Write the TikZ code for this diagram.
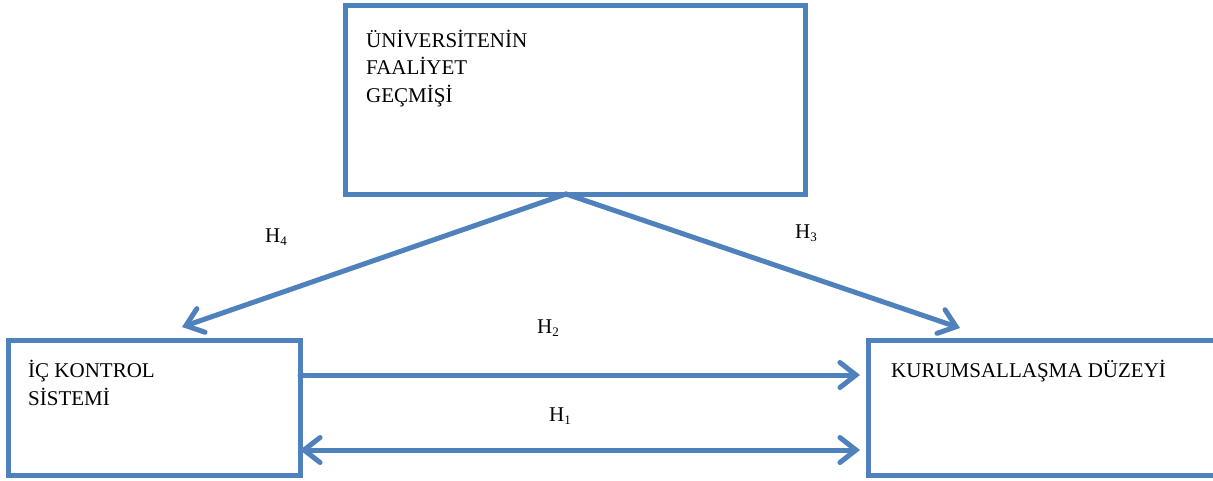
\documentclass[tikz,border=0pt]{standalone}
\usepackage{fontspec}
\setmainfont{Liberation Serif}
\usetikzlibrary{arrows.meta}
\definecolor{kutumavi}{RGB}{79,129,189}
\tikzset{
  kutu/.style={draw=kutumavi, line width=5pt, outer sep=0pt, inner sep=0pt},
  ok/.style={draw=kutumavi, line width=5pt, line cap=round,
    -{Straight Barb[length=16pt,width=25pt,line cap=round]}},
  yazi/.style={font=\fontsize{21}{27.5}\selectfont, inner sep=0pt, align=left, anchor=base west},
}
\begin{document}
\begin{tikzpicture}[x=1pt,y=-1pt]
            \useasboundingbox[fill=white] (0,0) rectangle (1213,480);
            % boxes
            \node[kutu, minimum width=460pt, minimum height=189pt] (gecmis) at (575,99.5) {};
            \node[kutu, minimum width=291.5pt, minimum height=134.5pt] (ic) at (154.25,407.75) {};
            \node[kutu, minimum width=350pt, minimum height=135pt] (kurum) at (1043,407.5) {};
            % box texts (base = last line)
            \node[yazi] (gecmisyazi) at (366,102.3) {ÜNİVERSİTENİN\\FAALİYET\\GEÇMİŞİ};
            \node[yazi] (icyazi) at (28,405) {İÇ KONTROL\\SİSTEMİ};
            \node[yazi] (kurumyazi) at (891,377) {KURUMSALLAŞMA DÜZEYİ};
            % arrow ends
            \coordinate (tepe) at (566,194);
            \coordinate (h4uc) at (182,327);
            \coordinate (h3uc) at (960,328);
            \coordinate (h2uc) at (860,375);
            \coordinate (h1uc) at (860,450);
            % arrows
            \draw[ok] (tepe) -- (h4uc);
            \draw[ok] (tepe) -- (h3uc);
            \draw[ok] (ic.east |- h2uc) -- (h2uc);
            \draw[ok, {Straight Barb[length=16pt,width=25pt,line cap=round]}-{Straight Barb[length=16pt,width=25pt,line cap=round]}] (ic.east |- h1uc) -- (h1uc);
            % labels
            \node[yazi] (h4) at (265,242) {H\raisebox{-3pt}{\fontsize{13}{13}\selectfont 4}};
            \node[yazi] (h3) at (795,238) {H\raisebox{-3pt}{\fontsize{13}{13}\selectfont 3}};
            \node[yazi] (h2) at (537,333) {H\raisebox{-3pt}{\fontsize{13}{13}\selectfont 2}};
            \node[yazi] (h1) at (549,421) {H\raisebox{-3pt}{\fontsize{13}{13}\selectfont 1}};
          \end{tikzpicture}
\end{document}
